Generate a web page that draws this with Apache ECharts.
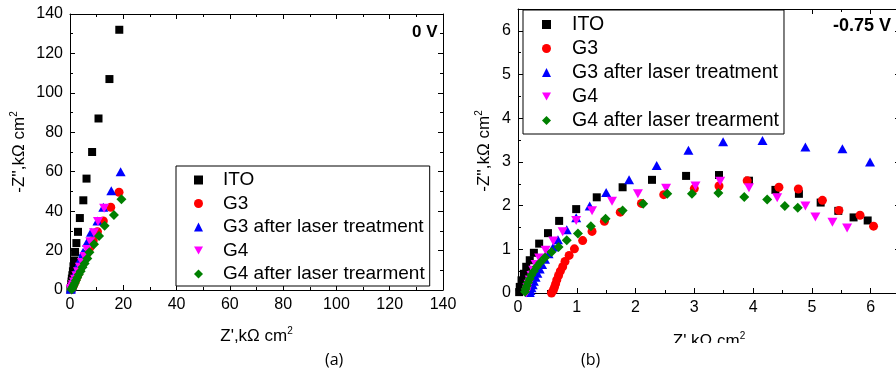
<!DOCTYPE html>
<html>
<head>
<meta charset="utf-8">
<script src="https://cdn.jsdelivr.net/npm/echarts@6/dist/echarts.min.js"></script>
<style>
html, body {margin: 0; padding: 0; background: #fff;}
#main {width: 896px; height: 377px;}
</style>
</head>
<body>
<div id="main"></div>
<script>
const names = ['ITO', 'G3', 'G3 after laser treatment', 'G4', 'G4 after laser trearment'];
const colors = ['#000000', '#ff0000', '#0000ff', '#ff00ff', '#008000'];
const downTri = 'path://M0,0 L10,0 L5,8.66 Z';
const symbols = ['rect', 'circle', 'triangle', downTri, 'diamond'];
const sizes = [8, 9, [10, 9], [10, 9], 10];

// panel (a): 0 V
const itoA = [[0.2, 0.3], [0.3, 1], [0.4, 2], [0.5, 3], [0.6, 4.3], [0.7, 5.8], [0.9, 7.5], [1.1, 9.5], [1.3, 12], [1.6, 15], [1.9, 19.3], [2.4, 23.8], [3.0, 29.5], [3.7, 36.5], [5.0, 45.5], [6.2, 56.5], [8.3, 70], [10.7, 87], [14.8, 107], [18.5, 132]];
const g3A = [[0.6, 0.3], [0.8, 0.8], [1.0, 1.5], [1.3, 2.3], [1.6, 3.3], [2.0, 4.5], [2.4, 5.8], [2.9, 7.3], [3.4, 9], [4.0, 11], [4.7, 13], [5.5, 15.5], [6.4, 18.5], [7.5, 21.5], [8.7, 25], [10.3, 29.6], [12.5, 35], [15.3, 42], [18.4, 49.6]];
const g3LaserA = [[0.3, 0.4], [0.4, 1], [0.6, 2], [0.8, 3], [1.1, 4.3], [1.4, 5.7], [1.8, 7.3], [2.2, 9], [2.7, 11], [3.3, 13.5], [4.0, 16], [4.9, 19.2], [6.4, 24.2], [7.9, 29.3], [10.3, 35], [12.5, 42], [15.5, 50.3], [19, 60]];
const g4A = [[0.3, 0.2], [0.5, 0.7], [0.8, 1.6], [1.1, 2.7], [1.5, 4], [1.9, 5.5], [2.4, 7.2], [3.0, 9.2], [3.7, 11.5], [4.5, 14], [5.4, 17], [6.4, 20.5], [7.6, 24.5], [9, 29], [10.5, 34.7], [12.8, 41.5]];
const g4LaserA = [[0.6, 0.3], [0.8, 0.9], [1.1, 1.6], [1.4, 2.5], [1.8, 3.6], [2.2, 4.8], [2.7, 6.2], [3.3, 7.8], [4, 9.5], [4.7, 11.5], [5.5, 13.5], [6.5, 16], [7.3, 19.1], [9.0, 23.2], [10.9, 27.4], [13, 32.6], [16.5, 38], [19.3, 46]];

// panel (b): -0.75 V
const itoB = [[0.02, 0.02], [0.03, 0.14], [0.06, 0.29], [0.1, 0.44], [0.14, 0.6], [0.2, 0.75], [0.27, 0.92], [0.36, 1.13], [0.51, 1.37], [0.7, 1.65], [0.99, 1.92], [1.34, 2.19], [1.78, 2.42], [2.28, 2.59], [2.86, 2.68], [3.42, 2.7], [3.93, 2.57], [4.38, 2.36], [4.78, 2.27], [5.15, 2.07], [5.45, 1.88], [5.71, 1.73], [5.95, 1.66]];
const g3B = [[0.57, 0.0], [0.6, 0.06], [0.62, 0.13], [0.64, 0.21], [0.66, 0.3], [0.69, 0.4], [0.72, 0.5], [0.76, 0.6], [0.8, 0.72], [0.87, 0.86], [0.96, 1.01], [1.1, 1.2], [1.26, 1.41], [1.47, 1.64], [1.74, 1.85], [2.1, 2.05], [2.48, 2.25], [3.0, 2.39], [3.42, 2.45], [3.9, 2.57], [4.44, 2.42], [4.77, 2.38], [5.18, 2.12], [5.46, 1.89], [5.82, 1.78], [6.05, 1.53]];
const g3LaserB = [[0.2, 0.01], [0.21, 0.06], [0.23, 0.12], [0.25, 0.19], [0.27, 0.27], [0.3, 0.36], [0.33, 0.45], [0.37, 0.55], [0.41, 0.65], [0.46, 0.77], [0.52, 0.9], [0.6, 1.05], [0.68, 1.22], [0.83, 1.45], [0.99, 1.72], [1.22, 1.99], [1.5, 2.3], [1.89, 2.59], [2.36, 2.92], [2.9, 3.27], [3.49, 3.46], [4.16, 3.49], [4.89, 3.34], [5.52, 3.3], [5.99, 3.0]];
const g4B = [[0.14, 0.0], [0.15, 0.05], [0.16, 0.12], [0.18, 0.2], [0.2, 0.3], [0.23, 0.4], [0.26, 0.52], [0.3, 0.65], [0.36, 0.8], [0.47, 0.98], [0.6, 1.19], [0.76, 1.4], [0.99, 1.66], [1.26, 1.88], [1.6, 2.1], [2.04, 2.27], [2.52, 2.4], [3.02, 2.45], [3.44, 2.56], [3.93, 2.41], [4.41, 2.18], [4.89, 1.99], [5.06, 1.74], [5.35, 1.62], [5.6, 1.49]];
const g4LaserB = [[0.12, 0.03], [0.13, 0.09], [0.15, 0.16], [0.17, 0.24], [0.2, 0.32], [0.23, 0.41], [0.27, 0.5], [0.32, 0.6], [0.38, 0.7], [0.46, 0.81], [0.57, 0.94], [0.69, 1.05], [0.83, 1.21], [1.02, 1.36], [1.24, 1.53], [1.49, 1.7], [1.78, 1.89], [2.13, 2.04], [2.54, 2.27], [2.96, 2.27], [3.41, 2.29], [3.85, 2.2], [4.24, 2.14], [4.54, 1.99], [4.76, 1.95]];

const panelA = [itoA, g3A, g3LaserA, g4A, g4LaserA];
const panelB = [itoB, g3B, g3LaserB, g4B, g4LaserB];

const font = 'Arial, "Liberation Sans", sans-serif';
const black = {color: '#000', width: 1};

function axis(gridIndex, position, max, interval, withLabels, nameText, nameGap) {
	const a = {
		type: 'value', gridIndex, position, min: 0, max, interval,
		axisLine: {show: true, onZero: false, lineStyle: black},
		axisTick: {show: true, inside: true, length: 5, lineStyle: black},
		minorTick: {show: true, splitNumber: 2, length: 3, lineStyle: black},
		splitLine: {show: false},
		axisLabel: {
			show: withLabels, color: '#000', fontSize: 16, fontFamily: font, margin: 7,
			formatter: v => (Math.abs(v - Math.round(v)) < 1e-9 ? String(Math.round(v)) : '')
		}
	};
	if (nameText) {
		a.name = '{t|' + nameText + '}{s|2}';
		a.nameLocation = 'middle';
		a.nameGap = nameGap;
		a.nameTextStyle = {
			rich: {
				t: {fontSize: 17, fontFamily: font, color: '#000'},
				s: {fontSize: 10, fontFamily: font, color: '#000', padding: [0, 0, 10, 0]}
			}
		};
	}
	return a;
}

function legend(left, top, padding, fontSize, lineHeight, itemGap, textPad) {
	return {
		orient: 'vertical', left, top, padding, itemGap,
		itemWidth: 9, itemHeight: 9, selectedMode: false,
		borderColor: '#000', borderWidth: 1, backgroundColor: '#fff',
		textStyle: {fontSize, lineHeight, fontFamily: font, color: '#000', padding: [0, 0, 0, textPad]},
		data: names.map((n, i) => ({name: n, icon: symbols[i], itemStyle: {color: colors[i]}}))
	};
}

function scatter(data, i, axisIndex) {
	return {
		type: 'scatter', name: names[i], data,
		xAxisIndex: axisIndex, yAxisIndex: axisIndex,
		symbol: symbols[i], symbolSize: sizes[i],
		itemStyle: {color: colors[i], opacity: 1},
		emphasis: {disabled: true}
	};
}

const chart = echarts.init(document.getElementById('main'));
chart.setOption({
	backgroundColor: '#fff',
	animation: false,
	grid: [
		{left: 70, top: 14, width: 373, height: 276, outerBoundsMode: 'none'},
		{left: 518, top: 9, width: 382, height: 284, outerBoundsMode: 'none'}
	],
	xAxis: [
		axis(0, 'bottom', 140, 20, true, "Z',kΩ cm", 36),
		axis(0, 'top', 140, 20, false),
		axis(1, 'bottom', 6.5, 1, true, "Z',kΩ cm", 38),
		axis(1, 'top', 6.5, 1, false)
	],
	yAxis: [
		axis(0, 'left', 140, 20, true, "-Z'',kΩ cm", 41),
		axis(0, 'right', 140, 20, false),
		axis(1, 'left', 6.5, 1, true, "-Z'',kΩ cm", 24),
		axis(1, 'right', 6.5, 1, false)
	],
	legend: [
		legend(176, 166, [4, 5, 2, 18], 19, 20, 3.5, 15),
		legend(523, 10, [4, 5, 3, 19], 19.5, 21, 3, 16)
	],
	graphic: [
		{type: 'text', left: 412, top: 24, style: {text: '0 V', font: 'bold 17px ' + font, fill: '#000'}},
		{type: 'text', left: 833, top: 17, style: {text: '-0.75 V', font: 'bold 18px ' + font, fill: '#000'}},
		{type: 'text', left: 325, top: 352, style: {text: '(a)', font: '16px "Open Sans", sans-serif', fill: '#000'}},
		{type: 'text', left: 581, top: 352, style: {text: '(b)', font: '16px "Open Sans", sans-serif', fill: '#000'}},
		{type: 'rect', left: 650, top: 343, z: 100, shape: {width: 130, height: 8}, style: {fill: '#fff'}}
	],
	series: [
		...panelA.map((d, i) => scatter(d, i, 0)),
		...panelB.map((d, i) => scatter(d, i, 2))
	]
});
</script>
</body>
</html>
